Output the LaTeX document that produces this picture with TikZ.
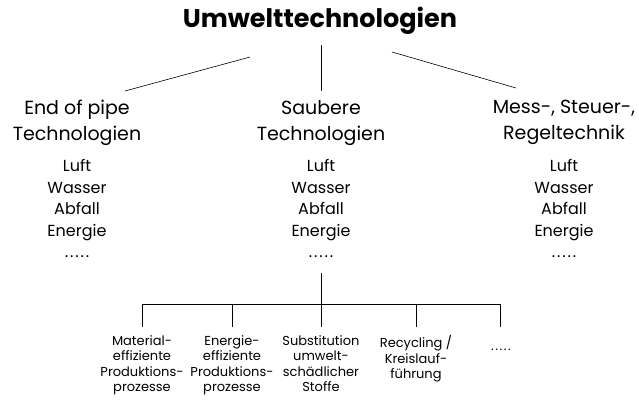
\documentclass[tikz,border=0pt]{standalone}
\usepackage{fontspec}
\setmainfont{Poppins}
\usetikzlibrary{positioning}

\newcommand\dotrow{{\addfontfeature{LetterSpace=12}.....}}

\tikzset{
  head/.style={inner sep=0pt, font=\fontsize{25.5}{28}\selectfont\bfseries},
  branch/.style={inner sep=0pt, align=center, font=\fontsize{19}{26}\selectfont},
  field/.style={inner sep=0pt, align=center, font=\fontsize{16}{21.5}\selectfont},
  leaf/.style={inner sep=0pt, align=center, font=\fontsize{13}{15.5}\selectfont},
}

\begin{document}
\begin{tikzpicture}[x=1pt,y=-1pt,line width=.6pt]
\useasboundingbox (0,0) rectangle (639,399);
% Kopf
\node[head,anchor=north] (top) at (320,7) {Umwelttechnologien};
% erste Ebene
\node[branch,anchor=north] (eop) at (77,100) {End of pipe\\Technologien};
\node[branch,anchor=north] (clean) at (321,100) {Saubere\\Technologien};
\node[branch,anchor=north] (msr) at (564,100) {Mess-, Steuer-,\\Regeltechnik};
\node[field,anchor=north] (eopf) at (77,159) {Luft\\Wasser\\Abfall\\Energie\\\dotrow};
\node[field,anchor=north] (cleanf) at (321,159) {Luft\\Wasser\\Abfall\\Energie\\\dotrow};
\node[field,anchor=north] (msrf) at (564,159) {Luft\\Wasser\\Abfall\\Energie\\\dotrow};
% Linien oben
\coordinate (tl) at (250,57);
\coordinate (tm) at (321,45);
\coordinate (tr) at (392,52);
\coordinate (el) at (125,91);
\coordinate (em) at (321,91);
\coordinate (er) at (516,88);
\draw (tl)--(el);
\draw (tm)--(em);
\draw (tr)--(er);
% zweite Ebene
\node[leaf,anchor=north] (mat) at (142,335) {Material-\\effiziente\\Produktions-\\prozesse};
\node[leaf,anchor=north] (en) at (232,335) {Energie-\\effiziente\\Produktions-\\prozesse};
\node[leaf,anchor=north] (sub) at (321,335) {Substitution\\umwelt-\\schädlicher\\Stoffe};
\node[leaf,anchor=north] (rec) at (416,335) {Recycling /\\Kreislauf-\\führung};
\node[leaf] (etc) at (501,350) {\dotrow};
\coordinate (root) at (321,273);
\coordinate (bar) at (321,304);
\draw (root)--(bar);
\draw (142,304)--(500,304);
\foreach \x in {142,232,321,416,500}
  \draw (\x,304)--(\x,327);
\end{tikzpicture}
\end{document}
